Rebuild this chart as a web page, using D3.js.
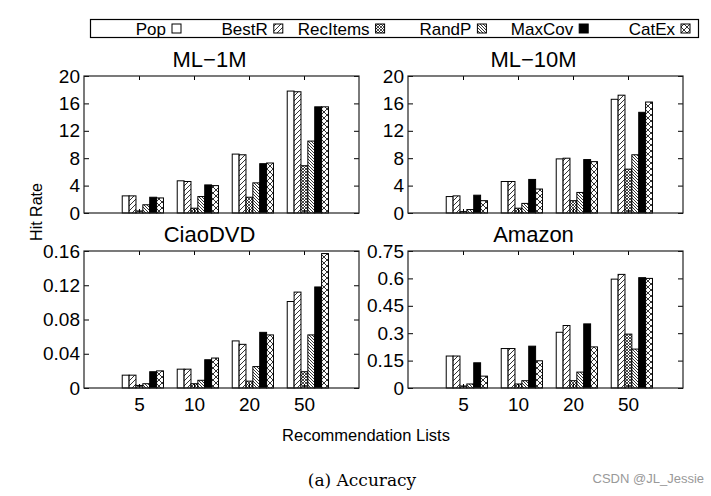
<!DOCTYPE html>
<html>
<head>
<meta charset="utf-8">
<script src="https://cdnjs.cloudflare.com/ajax/libs/d3/7.8.5/d3.min.js"></script>
<style>
body { margin: 0; background: #fff; }
text { font-family: "Liberation Sans", Arial, sans-serif; fill: #000; }
</style>
</head>
<body>
<script>
var width = 711, height = 496;

var categories = ["5", "10", "20", "50"];
var methods = ["Pop", "BestR", "RecItems", "RandP", "MaxCov", "CatEx"];
var patterns = ["none", "diag", "dense", "back", "solid", "cross"];

// values per method (rows) for each list length (columns)
var ml1m = [
    [2.5, 4.7, 8.6, 17.8],
    [2.5, 4.6, 8.5, 17.7],
    [0.3, 0.7, 2.3, 6.9],
    [1.2, 2.4, 4.4, 10.5],
    [2.3, 4.1, 7.2, 15.5],
    [2.2, 4.0, 7.3, 15.5]
];
var ml10m = [
    [2.4, 4.6, 7.9, 16.6],
    [2.5, 4.6, 8.0, 17.2],
    [0.2, 0.7, 1.8, 6.4],
    [0.5, 1.4, 3.0, 8.5],
    [2.6, 4.9, 7.8, 14.7],
    [1.8, 3.5, 7.5, 16.2]
];
var ciao = [
    [0.015, 0.022, 0.055, 0.101],
    [0.015, 0.022, 0.051, 0.112],
    [0.003, 0.005, 0.008, 0.019],
    [0.005, 0.009, 0.025, 0.062],
    [0.019, 0.033, 0.065, 0.118],
    [0.020, 0.035, 0.062, 0.157]
];
var amazon = [
    [0.175, 0.216, 0.305, 0.596],
    [0.175, 0.216, 0.342, 0.622],
    [0.011, 0.022, 0.040, 0.295],
    [0.022, 0.040, 0.087, 0.213],
    [0.138, 0.229, 0.351, 0.604],
    [0.065, 0.149, 0.225, 0.600]
];

var ticksMl = [0, 4, 8, 12, 16, 20];
var ticksCiao = [0, 0.04, 0.08, 0.12, 0.16];
var ticksAmazon = [0, 0.15, 0.3, 0.45, 0.6, 0.75];

var svg = d3.select("body").append("svg")
    .attr("width", width)
    .attr("height", height);
svg.append("rect").attr("width", width).attr("height", height).attr("fill", "#fff");

// hatch patterns
var defs = svg.append("defs");
function hatch(id, size, paths, sw) {
    var p = defs.append("pattern").attr("id", id)
        .attr("patternUnits", "userSpaceOnUse")
        .attr("width", size).attr("height", size);
    p.append("rect").attr("width", size).attr("height", size).attr("fill", "#fff");
    paths.forEach(function (d) {
        p.append("path").attr("d", d).attr("stroke", "#000").attr("stroke-width", sw).attr("fill", "none");
    });
}
hatch("diag", 5, ["M0,5 L5,0", "M-1,1 L1,-1", "M4,6 L6,4"], 0.8);
hatch("back", 3, ["M0,0 L3,3", "M-1,2 L1,4", "M2,-1 L4,1"], 0.8);
hatch("dense", 3, ["M0,3 L3,0", "M0,0 L3,3", "M-1,1 L1,-1", "M2,4 L4,2", "M-1,2 L1,4", "M2,-1 L4,1"], 0.7);
hatch("cross", 6, ["M0,6 L6,0", "M0,0 L6,6", "M-1,1 L1,-1", "M5,7 L7,5", "M-1,5 L1,7", "M5,-1 L7,1"], 0.8);

function fillFor(i) {
    var p = patterns[i];
    if (p === "none") return "#fff";
    if (p === "solid") return "#000";
    return "url(#" + p + ")";
}

var panelW = 275, panelH = 137;
var barW = 1 / 8, groupShift = 0.07;

function drawPanel(left, top, title, values, ticks, showX) {
    var g = svg.append("g").attr("transform", "translate(" + left + "," + top + ")");
    var x = d3.scaleLinear().domain([-1, 4]).range([0, panelW]);
    var y = d3.scaleLinear().domain([0, ticks[ticks.length - 1]]).range([panelH, 0]);

    values.forEach(function (row, m) {
        g.selectAll(".b" + m).data(row).enter().append("rect")
            .attr("x", function (d, c) { return x(c + groupShift + (m - 3) * barW); })
            .attr("y", function (d) { return y(d); })
            .attr("width", x(barW) - x(0))
            .attr("height", function (d) { return panelH - y(d); })
            .attr("fill", fillFor(m))
            .attr("stroke", "#000")
            .attr("stroke-width", 1);
    });

    // y ticks both sides, inward
    g.append("g").call(d3.axisLeft(y).tickValues(ticks).tickSize(-5).tickPadding(4)
        .tickFormat(function (d) { return String(+d.toFixed(2)); }))
        .call(function (a) {
            a.select(".domain").remove();
            a.selectAll("text").style("font-size", "19px").style("font-family", "Liberation Sans, Arial, sans-serif");
        });
    g.append("g").attr("transform", "translate(" + panelW + ",0)")
        .call(d3.axisRight(y).tickValues(ticks).tickSize(-5).tickFormat(""))
        .call(function (a) { a.select(".domain").remove(); });

    // x ticks bottom and top, inward
    g.append("g").attr("transform", "translate(0," + panelH + ")")
        .call(d3.axisBottom(x).tickValues([0, 1, 2, 3]).tickSize(-4).tickPadding(10)
            .tickFormat(function (d) { return showX ? categories[d] : ""; }))
        .call(function (a) {
            a.select(".domain").remove();
            a.selectAll("text").style("font-size", "19px").style("font-family", "Liberation Sans, Arial, sans-serif");
        });
    g.append("g")
        .call(d3.axisTop(x).tickValues([0, 1, 2, 3]).tickSize(-4).tickFormat(""))
        .call(function (a) { a.select(".domain").remove(); });

    g.append("rect").attr("width", panelW).attr("height", panelH)
        .attr("fill", "none").attr("stroke", "#222").attr("stroke-width", 1.2);

    g.append("text").attr("x", panelW / 2 - 12).attr("y", -9)
        .attr("text-anchor", "middle").style("font-size", "22px").text(title);
}

drawPanel(84, 76, "ML\u22121M", ml1m, ticksMl, false);
drawPanel(408, 76, "ML\u221210M", ml10m, ticksMl, false);
drawPanel(84, 251, "CiaoDVD", ciao, ticksCiao, true);
drawPanel(408, 251, "Amazon", amazon, ticksAmazon, true);

// legend
var lg = svg.append("g");
lg.append("rect").attr("x", 90.5).attr("y", 19.5).attr("width", 608).attr("height", 18)
    .attr("fill", "#fff").attr("stroke", "#000").attr("stroke-width", 1.2);
methods.forEach(function (name, i) {
    var sx = 172 + 101.8 * i;
    lg.append("rect").attr("x", sx).attr("y", 24).attr("width", 9).attr("height", 9)
        .attr("fill", fillFor(i)).attr("stroke", "#000").attr("stroke-width", 1);
    lg.append("text").attr("x", sx - 6).attr("y", 34.5).attr("text-anchor", "end")
        .style("font-size", "17px").text(name);
});

svg.append("text").attr("transform", "translate(42,212) rotate(-90)")
    .attr("text-anchor", "middle").style("font-size", "16px").text("Hit Rate");

svg.append("text").attr("x", 366).attr("y", 441)
    .attr("text-anchor", "middle").style("font-size", "16.5px").text("Recommendation Lists");

svg.append("text").attr("x", 362).attr("y", 486)
    .attr("text-anchor", "middle").style("font-size", "17px")
    .style("font-family", "DejaVu Serif, Liberation Serif, serif").text("(a)  Accuracy");

svg.append("text").attr("x", 704).attr("y", 483)
    .attr("text-anchor", "end").style("font-size", "13px").style("fill", "#999").text("CSDN @JL_Jessie");
</script>
</body>
</html>
